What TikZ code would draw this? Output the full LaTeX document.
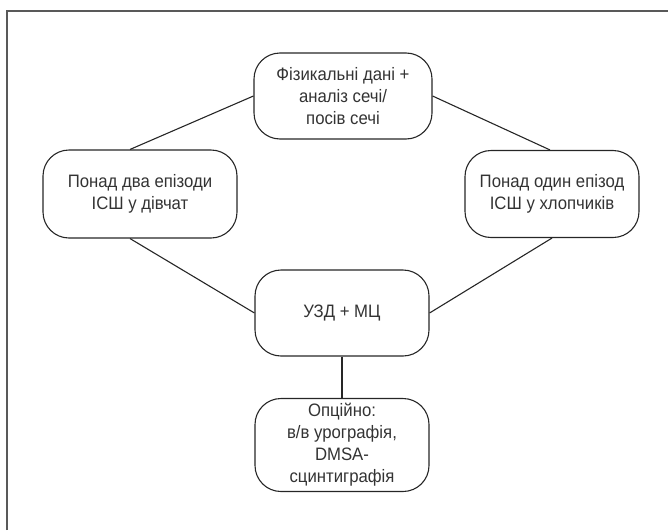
\documentclass[tikz,border=0pt]{standalone}
\usepackage{fontspec}
\setmainfont{Liberation Sans}[FakeStretch=0.93]
\begin{document}
\begin{tikzpicture}[x=1pt,y=-1pt,
  box/.style={draw=black!85, line width=1.1pt, rounded corners=26pt, align=center,
    text=black!80, font=\fontsize{18}{22}\selectfont, inner sep=0pt},
  link/.style={draw=black!85, line width=1.1pt}]
\useasboundingbox (0,0) rectangle (668,530);
\draw[black!65, line width=2pt] (7,530) -- (7,11) -- (668,11);
\node[box, minimum width=178pt, minimum height=86pt] (top) at (343,96) {Фізикальні дані +\\аналіз сечі/\\посів сечі};
\node[box, minimum width=194pt, minimum height=88pt] (left) at (140,194) {Понад два епізоди\\ІСШ у дівчат};
\node[box, minimum width=174pt, minimum height=87pt] (right) at (552,194) {Понад один епізод\\ІСШ у хлопчиків};
\node[box, minimum width=174pt, minimum height=86pt] (mid) at (342,313) {УЗД + МЦ};
\node[box, minimum width=174pt, minimum height=93pt] (bot) at (342,445) {Опційно:\\в/в урографія,\\DMSA-\\сцинтиграфія};
\draw[link] (top.west) -- ([xshift=-10pt]left.north);
\draw[link] (top.east) -- ([xshift=-2pt]right.north);
\draw[link] ([xshift=-10pt]left.south) -- (mid.west);
\draw[link] (mid.east) -- (right.south);
\draw[link] (mid.south) -- (bot.north);
\end{tikzpicture}
\end{document}
